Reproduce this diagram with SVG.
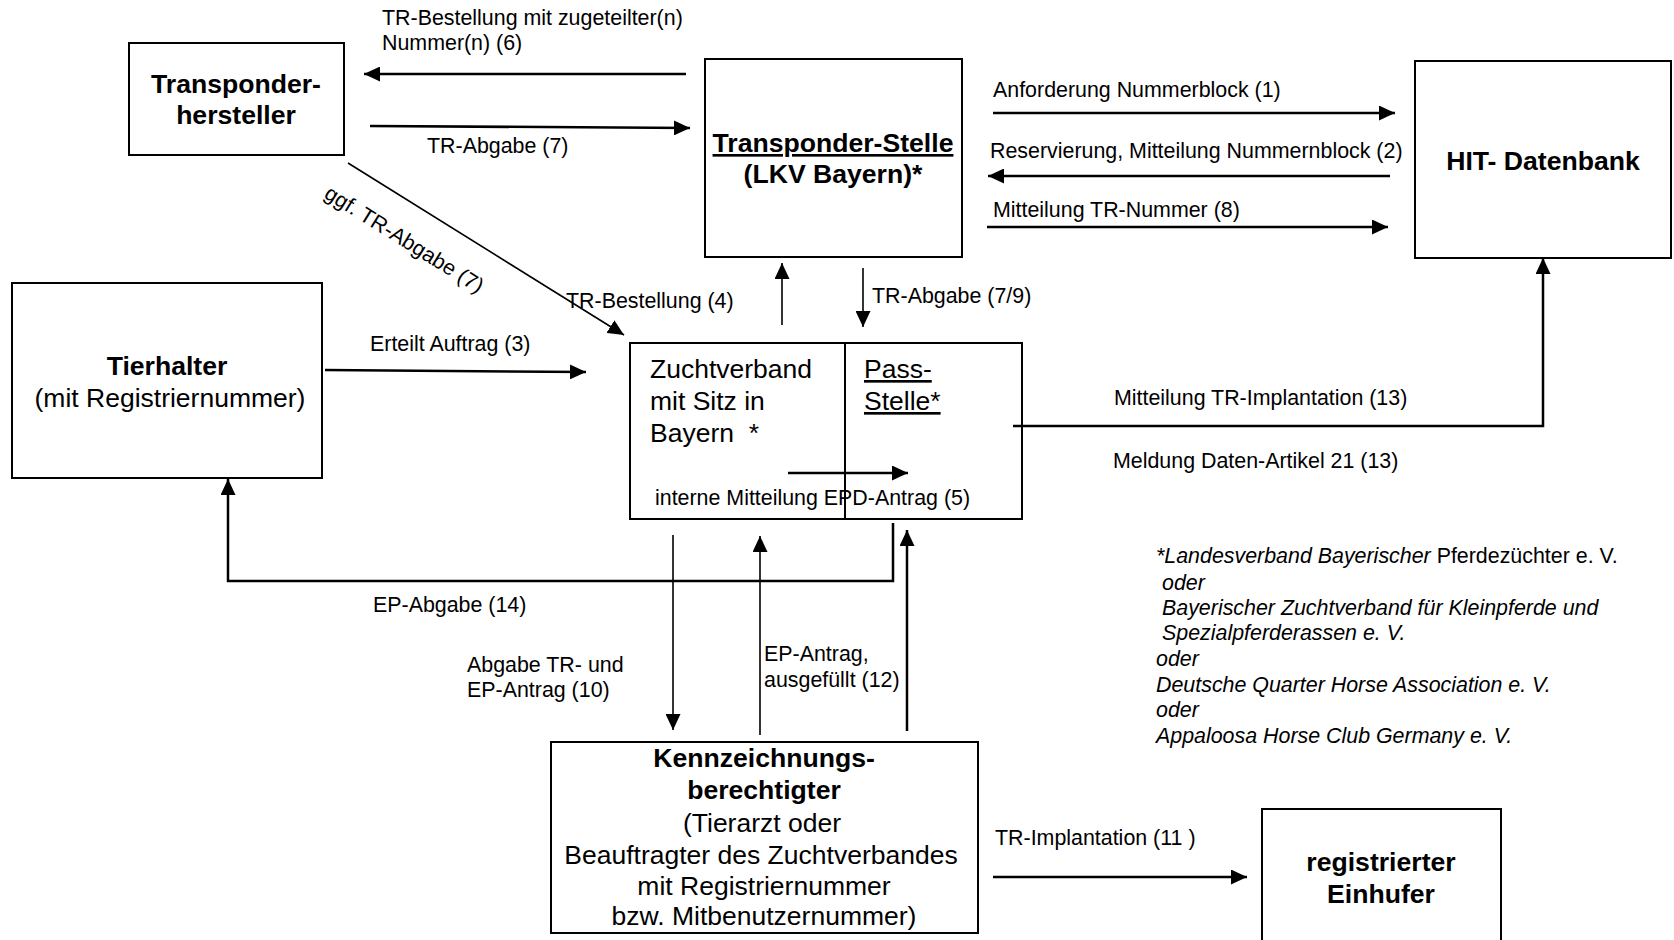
<svg xmlns="http://www.w3.org/2000/svg" width="1674" height="940" viewBox="0 0 1674 940">
<style>
text{font-family:"Liberation Sans",Arial,sans-serif;fill:#000}
.t{font-size:26.6px;font-weight:bold}
.r{font-size:26.5px}
.l{font-size:21.4px}
.i{font-size:21.4px;font-style:italic}
.box{fill:#fff;stroke:#000;stroke-width:2}
.c{fill:none;stroke:#000;stroke-width:2.5}
.th{fill:none;stroke:#000;stroke-width:1.6}
.u{text-decoration:underline}
</style>
<defs>
<marker id="ah" markerUnits="userSpaceOnUse" markerWidth="17" markerHeight="15" refX="16" refY="7.5" orient="auto">
<path d="M0,0 L16,7.5 L0,15 Z" fill="#000"/>
</marker>
</defs>
<rect width="1674" height="940" fill="#fff"/>

<g id="transponderhersteller">
<rect class="box" x="129" y="43" width="215" height="112"/>
<text class="t" x="236" y="93" text-anchor="middle">Transponder-</text>
<text class="t" x="236" y="124" text-anchor="middle">hersteller</text>
</g>

<g id="transponderstelle">
<rect class="box" x="705" y="59" width="257" height="198"/>
<text class="t u" x="833" y="152" text-anchor="middle">Transponder-Stelle</text>
<text class="t" x="833" y="183" text-anchor="middle">(LKV Bayern)*</text>
</g>

<g id="hit">
<rect class="box" x="1415" y="61" width="256" height="197"/>
<text class="t" x="1543" y="170" text-anchor="middle">HIT- Datenbank</text>
</g>

<g id="tierhalter">
<rect class="box" x="12" y="283" width="310" height="195"/>
<text class="t" x="167" y="375" text-anchor="middle">Tierhalter</text>
<text class="r" x="170" y="407" text-anchor="middle">(mit Registriernummer)</text>
</g>

<g id="zuchtverband">
<rect class="box" x="630" y="343" width="392" height="176"/>
<line x1="845" y1="343" x2="845" y2="519" stroke="#000" stroke-width="2"/>
<text class="r" x="650" y="378">Zuchtverband</text>
<text class="r" x="650" y="410">mit Sitz in</text>
<text class="r" x="650" y="442" xml:space="preserve">Bayern  *</text>
<text class="r u" x="864" y="378">Pass-</text>
<text class="r u" x="864" y="410">Stelle*</text>
<text class="l" x="655" y="505">interne Mitteilung EPD-Antrag (5)</text>
</g>

<g id="kennzeichnungsberechtigter">
<rect class="box" x="551" y="742" width="427" height="191"/>
<text class="t" x="764" y="767" text-anchor="middle">Kennzeichnungs-</text>
<text class="t" x="764" y="799" text-anchor="middle">berechtigter</text>
<text class="r" x="762" y="832" text-anchor="middle">(Tierarzt oder</text>
<text class="r" x="761" y="864" text-anchor="middle">Beauftragter des Zuchtverbandes</text>
<text class="r" x="764" y="895" text-anchor="middle">mit Registriernummer</text>
<text class="r" x="764" y="925" text-anchor="middle">bzw. Mitbenutzernummer)</text>
</g>

<g id="einhufer">
<rect class="box" x="1262" y="809" width="239" height="150"/>
<text class="t" x="1381" y="871" text-anchor="middle" font-size="25.5">registrierter</text>
<text class="t" x="1381" y="903" text-anchor="middle" font-size="25.5">Einhufer</text>
</g>

<g id="connectors">
<line class="c" x1="686" y1="74" x2="364" y2="74" marker-end="url(#ah)"/>
<line class="c" x1="370" y1="126" x2="690" y2="128" marker-end="url(#ah)"/>
<line class="c" x1="993" y1="113" x2="1395" y2="113" marker-end="url(#ah)"/>
<line class="c" x1="1390" y1="176" x2="988" y2="176" marker-end="url(#ah)"/>
<line class="c" x1="987" y1="227" x2="1388" y2="227" marker-end="url(#ah)"/>
<line class="th" x1="348" y1="163" x2="624" y2="335" marker-end="url(#ah)"/>
<line class="th" x1="782" y1="325" x2="782" y2="263" marker-end="url(#ah)"/>
<line class="th" x1="863" y1="268" x2="863" y2="327" marker-end="url(#ah)"/>
<line class="c" x1="325" y1="370" x2="586" y2="372" marker-end="url(#ah)"/>
<polyline class="c" points="893,523 893,581 228,581 228,479" marker-end="url(#ah)"/>
<line class="c" x1="788" y1="473" x2="908" y2="473" marker-end="url(#ah)"/>
<polyline class="c" points="1013,426 1543,426 1543,258" marker-end="url(#ah)"/>
<line class="th" x1="673" y1="535" x2="673" y2="730" marker-end="url(#ah)"/>
<line class="th" x1="760" y1="735" x2="760" y2="536" marker-end="url(#ah)"/>
<line class="c" x1="907" y1="731" x2="907" y2="530" marker-end="url(#ah)"/>
<line class="c" x1="993" y1="877" x2="1247" y2="877" marker-end="url(#ah)"/>
</g>

<g id="labels">
<text class="l" x="382" y="25">TR-Bestellung mit zugeteilter(n)</text>
<text class="l" x="382" y="50">Nummer(n) (6)</text>
<text class="l" x="427" y="153">TR-Abgabe (7)</text>
<text class="l" x="993" y="97">Anforderung Nummerblock (1)</text>
<text class="l" x="990" y="158">Reservierung, Mitteilung Nummernblock (2)</text>
<text class="l" x="993" y="217">Mitteilung TR-Nummer (8)</text>
<text class="l" x="872" y="303">TR-Abgabe (7/9)</text>
<text class="l" x="566" y="308">TR-Bestellung (4)</text>
<text class="l" x="0" y="0" font-size="24" transform="translate(323,197) rotate(32)">ggf. TR-Abgabe (7)</text>
<text class="l" x="370" y="351">Erteilt Auftrag (3)</text>
<text class="l" x="373" y="612">EP-Abgabe (14)</text>
<text class="l" x="467" y="672">Abgabe TR- und</text>
<text class="l" x="467" y="697">EP-Antrag (10)</text>
<text class="l" x="764" y="661">EP-Antrag,</text>
<text class="l" x="764" y="687">ausgefüllt (12)</text>
<text class="l" x="1114" y="405">Mitteilung TR-Implantation (13)</text>
<text class="l" x="1113" y="468">Meldung Daten-Artikel 21 (13)</text>
<text class="l" x="995" y="845">TR-Implantation (11 )</text>
</g>

<g id="footnote">
<text class="l" x="1156" y="563"><tspan font-style="italic">*Landesverband Bayerischer</tspan> Pferdezüchter e. V.</text>
<text class="i" x="1162" y="590">oder</text>
<text class="i" x="1162" y="615">Bayerischer Zuchtverband für Kleinpferde und</text>
<text class="i" x="1162" y="640">Spezialpferderassen e. V.</text>
<text class="i" x="1156" y="666">oder</text>
<text class="i" x="1156" y="692">Deutsche Quarter Horse Association e. V.</text>
<text class="i" x="1156" y="717">oder</text>
<text class="i" x="1156" y="743">Appaloosa Horse Club Germany e. V.</text>
</g>
</svg>
